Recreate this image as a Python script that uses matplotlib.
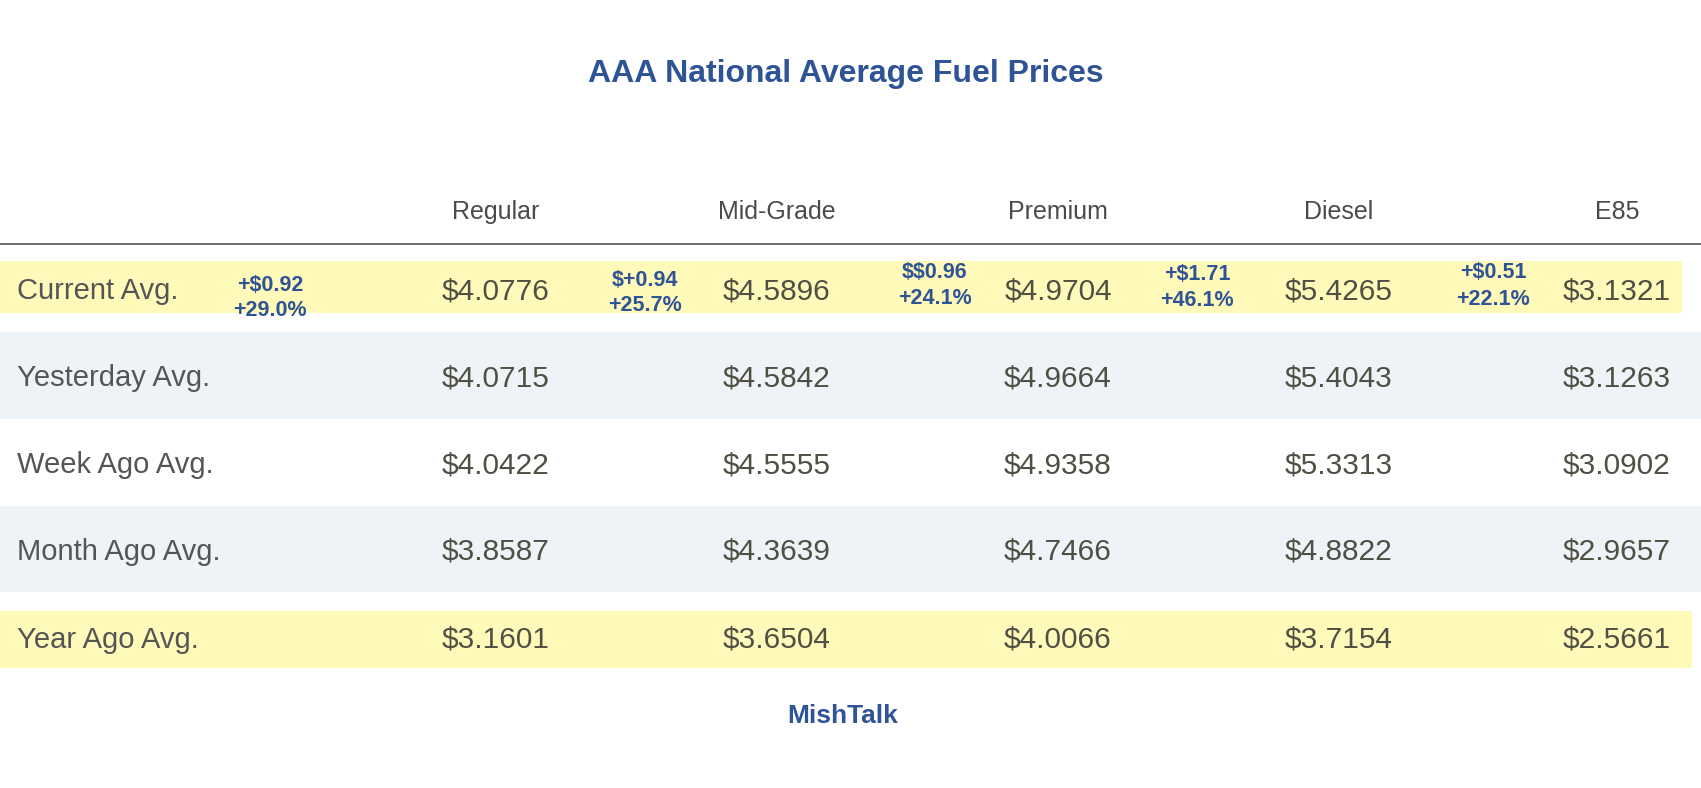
import matplotlib.pyplot as plt
from matplotlib.patches import Rectangle

# table content
fuels = ['Regular', 'Mid-Grade', 'Premium', 'Diesel', 'E85']
row_labels = ['Current Avg.', 'Yesterday Avg.', 'Week Ago Avg.', 'Month Ago Avg.', 'Year Ago Avg.']
current = [4.0776, 4.5896, 4.9704, 5.4265, 3.1321]
yesterday = [4.0715, 4.5842, 4.9664, 5.4043, 3.1263]
week_ago = [4.0422, 4.5555, 4.9358, 5.3313, 3.0902]
month_ago = [3.8587, 4.3639, 4.7466, 4.8822, 2.9657]
year_ago = [3.1601, 3.6504, 4.0066, 3.7154, 2.5661]
# year-over-year change labels (as printed, typos included)
change_dollar = ['+$0.92', '$+0.94', '$$0.96', '+$1.71', '+$0.51']
change_pct = ['+29.0%', '+25.7%', '+24.1%', '+46.1%', '+22.1%']

rows = [current, yesterday, week_ago, month_ago, year_ago]

BLUE = '#2F5496'
GREY = '#555555'
VAL = '#4F4F44'
YELLOW = '#FFF9BA'
BAND = '#EEF3F8'
FONT = ['Liberation Sans', 'DejaVu Sans']

fig = plt.figure(figsize=(17.01, 7.88), dpi=100)
ax = fig.add_axes([0, 0, 1, 1])
ax.set_xlim(0, 1701)
ax.set_ylim(788, 0)
ax.axis('off')

# layout (pixels)
col_x = [496, 777, 1058, 1339, 1617]
chg_x = [270, 645, 935, 1197, 1493]
chg_y = [(285, 310), (280, 305), (273, 298), (274, 300), (273, 299)]
row_y = [291, 378, 465, 552, 640]
bands = [(261, 52, 1682, YELLOW), (332, 87, 1701, BAND), None,
         (506, 86, 1701, BAND), (611, 57, 1692, YELLOW)]

for b in bands:
    if b is not None:
        y0, h, w, c = b
        ax.add_patch(Rectangle((0, y0), w, h, facecolor=c, edgecolor='none', zorder=0))

def txt(x, y, s, **kw):
    ax.text(x, y, s, va='center', family=FONT, parse_math=False, **kw)

txt(846, 74, 'AAA National Average Fuel Prices', ha='center',
    fontsize=23, fontweight='bold', color=BLUE)

for x, name in zip(col_x, fuels):
    txt(x, 212, name, ha='center', fontsize=18, color='#4A4A4A')
ax.plot([0, 1701], [244, 244], color=GREY, lw=1.2)

for y, label, vals in zip(row_y, row_labels, rows):
    txt(17, y, label, ha='left', fontsize=21, color=GREY)
    for x, v in zip(col_x, vals):
        txt(x, y, '$%.4f' % v, ha='center', fontsize=21.5, color=VAL)

for x, (y1, y2), d, p in zip(chg_x, chg_y, change_dollar, change_pct):
    txt(x, y1, d, ha='center', fontsize=15.5, fontweight='bold', color=BLUE)
    txt(x, y2, p, ha='center', fontsize=15.5, fontweight='bold', color=BLUE)

txt(843, 716, 'MishTalk', ha='center', fontsize=19, fontweight='bold', color=BLUE)

fig.savefig('out.png', dpi=100)
